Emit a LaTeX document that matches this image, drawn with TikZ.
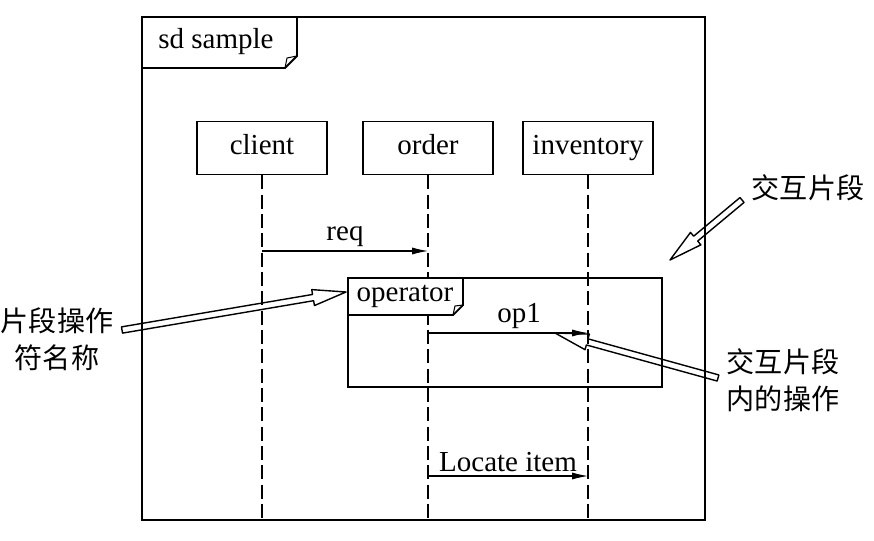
\documentclass[tikz,border=0pt]{standalone}
\usepackage{fontspec}
\setmainfont{Liberation Serif}
\newfontfamily\cjk{Noto Sans CJK SC}
\usetikzlibrary{arrows.meta,calc}

% outlined (hollow) pointer arrow from #1 to #2
\newcommand{\hollowarrow}[2]{%
  \coordinate (hb) at ($(#2)!19pt!(#1)$);
  \path [draw, line width=.8pt, line join=round]
    ($(#1)!1.8pt!90:(#2)$) -- ($(hb)!1.8pt!-90:(#1)$) -- ($(hb)!4.6pt!-90:(#1)$)
    -- (#2) -- ($(hb)!4.6pt!90:(#1)$) -- ($(hb)!1.8pt!90:(#1)$)
    -- ($(#1)!1.8pt!-90:(#2)$) -- cycle;}

\tikzset{
  head/.style={draw, line width=1pt, fill=white, minimum width=2.6cm, minimum height=1.06cm, inner sep=0pt, text height=1.7ex, text depth=.15ex},
  lifeline/.style={line width=.6pt, dash pattern=on 8pt off 3pt},
  msg/.style={line width=.6pt, -{Latex[length=9pt,width=4pt]}},
  note/.style={font=\cjk\fontsize{16}{21}\selectfont, align=center, inner sep=0pt}
}

\begin{document}
\begin{tikzpicture}[x=0.02cm, y=-0.02cm, font=\fontsize{16.5}{19}\selectfont]
\useasboundingbox (0,0) rectangle (874,540);
% frame and its tab
\path [draw, line width=1.1pt] (142,17) rectangle (705,520);
\path [draw, line width=1.1pt] (142,68) -- (285,68) -- (297,56) -- (297,17);
\path [draw, line width=.6pt] (285,68) -- (287,58) -- (297,56);
\node (sd) at (216,42) {sd sample};

% lifelines
\node [head] (client) at (262,148) {client};
\node [head] (order) at (428,148) {order};
\node [head] (inventory) at (588,148) {inventory};
\coordinate (client-end) at (client |- 0,520);
\coordinate (order-end) at (order |- 0,520);
\coordinate (inventory-end) at (inventory |- 0,520);
\path [draw, lifeline] (client) -- (client-end);
\path [draw, lifeline] (order) -- (order-end);
\path [draw, lifeline] (inventory) -- (inventory-end);

% combined fragment
\path [draw, line width=1.1pt] (348,278) rectangle (662,387);
\path [draw, line width=1pt, fill=white] (348,278) -- (348,315) -- (453,315) -- (463,305) -- (463,278) -- cycle;
\path [draw, line width=.6pt] (453,315) -- (455,306) -- (463,305);
\node (operator) at (405,296) {operator};

% messages
\coordinate (req-a) at (client |- 0,251);
\coordinate (req-b) at (order |- 0,251);
\path [draw, msg] (req-a) -- node [above, inner sep=2pt] {req} (req-b);
\coordinate (op-a) at (order |- 0,333);
\coordinate (op-b) at (inventory |- 0,333);
\path [draw, msg] (op-a) -- node [above, inner sep=2pt, pos=.57] {op1} (op-b);
\coordinate (loc-a) at (order |- 0,476);
\coordinate (loc-b) at (inventory |- 0,476);
\path [draw, msg] (loc-a) -- node [above, inner sep=2pt] {Locate item} (loc-b);

% notes
\node [note] (frag) at (808,188) {交互片段};
\node [note] (opname) at (57,339) {片段操作\\符名称};
\node [note] (inner) at (783,380) {交互片段\\内的操作};
\coordinate (frag-tail) at (742,200);
\coordinate (frag-tip) at (670,260);
\coordinate (opname-tail) at (122,330);
\coordinate (opname-tip) at (346,292);
\coordinate (inner-tail) at (718,378);
\coordinate (inner-tip) at (555,333);
\hollowarrow{frag-tail}{frag-tip}
\hollowarrow{opname-tail}{opname-tip}
\hollowarrow{inner-tail}{inner-tip}
\end{tikzpicture}
\end{document}
